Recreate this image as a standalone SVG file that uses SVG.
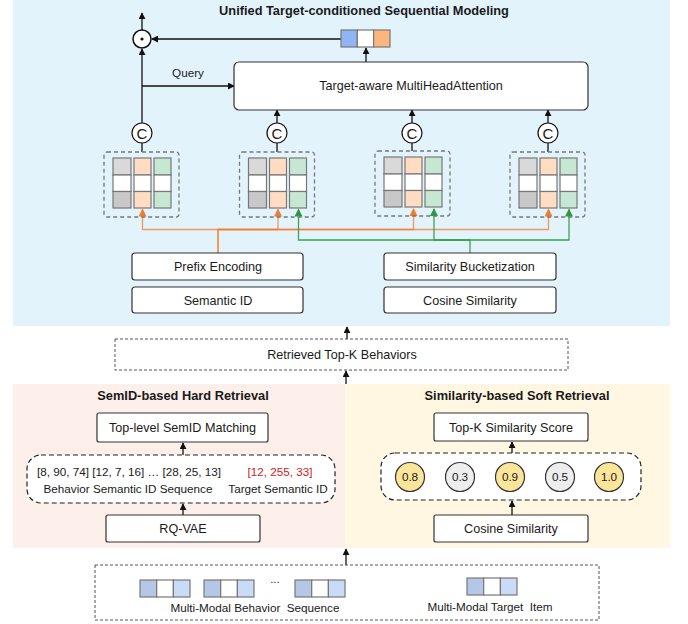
<svg xmlns="http://www.w3.org/2000/svg" width="688" height="624" viewBox="0 0 688 624">
<style>
text{font-family:"Liberation Sans",Arial,sans-serif;fill:#1a1a1a}
.t12{font-size:12.6px}
.t11{font-size:11.7px}
.b{font-weight:bold;font-size:12.8px}
.box{fill:#fff;stroke:#333;stroke-width:1.2}
.dash{fill:#fff;stroke:#555;stroke-width:1;stroke-dasharray:3,2}
.gdash{fill:none;stroke:#777;stroke-width:1.3;stroke-dasharray:4,3}
.ln{fill:none;stroke:#111;stroke-width:1.3}
.cell{stroke:#777;stroke-width:1.2}
.or{fill:none;stroke:#F47B2A;stroke-width:1.3;stroke-opacity:0.75}
.gr{fill:none;stroke:#2C9A3C;stroke-width:1.3;stroke-opacity:0.9}
</style>
<defs>
<marker id="ah" viewBox="0 0 8 8" refX="7" refY="4" markerWidth="7" markerHeight="7" markerUnits="userSpaceOnUse" orient="auto"><path d="M0,0 L8,4 L0,8 z" fill="#111"/></marker>
<marker id="ao" viewBox="0 0 8 8" refX="7" refY="4" markerWidth="8" markerHeight="8" markerUnits="userSpaceOnUse" orient="auto"><path d="M0,0 L8,4 L0,8 z" fill="#F47B2A"/></marker>
<marker id="ag" viewBox="0 0 8 8" refX="7" refY="4" markerWidth="8" markerHeight="8" markerUnits="userSpaceOnUse" orient="auto"><path d="M0,0 L8,4 L0,8 z" fill="#2C9A3C"/></marker>
<g id="grp">
<rect class="gdash" x="0" y="0" width="75" height="65" rx="3"/>
<rect class="cell" x="9" y="6" width="18" height="17" fill="#D9D9D9"/>
<rect class="cell" x="9" y="23" width="18" height="16.5" fill="#fff"/>
<rect class="cell" x="9" y="39.5" width="18" height="16.5" fill="#C8C8C8"/>
<rect class="cell" x="30" y="6" width="17" height="17" fill="#FFDCC2"/>
<rect class="cell" x="30" y="23" width="17" height="16.5" fill="#fff"/>
<rect class="cell" x="30" y="39.5" width="17" height="16.5" fill="#FFDCC2"/>
<rect class="cell" x="50" y="6" width="17" height="17" fill="#C6E8D3"/>
<rect class="cell" x="50" y="23" width="17" height="16.5" fill="#fff"/>
<rect class="cell" x="50" y="39.5" width="17" height="16.5" fill="#C6E8D3"/>
</g>
<g id="vec">
<rect class="cell" x="0" y="0" width="16.7" height="17" fill="#B4C7E7"/>
<rect class="cell" x="16.7" y="0" width="16.7" height="17" fill="#fff"/>
<rect class="cell" x="33.4" y="0" width="16.6" height="17" fill="#C9DBF7"/>
</g>
</defs>

<!-- backgrounds -->
<rect x="13" y="0" width="657" height="326" fill="#E3F3FC"/>
<rect x="13" y="384" width="332" height="164" fill="#FDF0EA"/>
<rect x="345" y="384" width="325" height="164" fill="#FFF7E2"/>

<text class="b" x="364" y="15" text-anchor="middle">Unified Target-conditioned Sequential Modeling</text>

<!-- connectors -->
<g id="connectors">
<path class="ln" d="M142,30 V13" marker-end="url(#ah)"/>
<path class="ln" d="M341,39 H152" marker-end="url(#ah)"/>
<path class="ln" d="M366,62 V48" marker-end="url(#ah)"/>
<path class="ln" d="M142,123 V49" marker-end="url(#ah)"/>
<path class="ln" d="M142,86 H234" marker-end="url(#ah)"/>
<path class="ln" d="M142,152 V143"/>
<path class="ln" d="M277,152 V143"/>
<path class="ln" d="M412,151 V143"/>
<path class="ln" d="M548,152 V143"/>
<path class="ln" d="M277,123 V110" marker-end="url(#ah)"/>
<path class="ln" d="M412,123 V110" marker-end="url(#ah)"/>
<path class="ln" d="M548,123 V110" marker-end="url(#ah)"/>
<path class="or" d="M218,253 V229.5 H142.5 V209.5" marker-end="url(#ao)"/>
<path class="or" d="M218,253 V229.5 H278 V209.5" marker-end="url(#ao)"/>
<path class="or" d="M218,229.5 H413.5 V209" marker-end="url(#ao)"/>
<path class="or" d="M218,229.5 H548.5 V209.5" marker-end="url(#ao)"/>
<path class="gr" d="M470,253 V240 H298.5 V209.5" marker-end="url(#ag)"/>
<path class="gr" d="M470,240 H434 V209" marker-end="url(#ag)"/>
<path class="gr" d="M470,240 H569 V209.5" marker-end="url(#ag)"/>
<path class="ln" d="M347,339 V327" marker-end="url(#ah)"/>
<path class="ln" d="M346,384 V371" marker-end="url(#ah)"/>
<path class="ln" d="M346,565 V549" marker-end="url(#ah)"/>
<path class="ln" d="M183,455 V443" marker-end="url(#ah)"/>
<path class="ln" d="M183,515 V504" marker-end="url(#ah)"/>
<path class="ln" d="M512,453 V442" marker-end="url(#ah)"/>
<path class="ln" d="M512,515 V501" marker-end="url(#ah)"/>
</g>

<!-- odot -->
<g id="odot">
<circle cx="142" cy="39" r="9" fill="#fff" stroke="#111" stroke-width="1.5"/>
<circle cx="142" cy="39" r="1.6" fill="#111"/>
</g>

<!-- attention output vector -->
<g id="attnout">
<rect class="cell" x="341" y="30" width="16.3" height="17" fill="#8FB5F5"/>
<rect class="cell" x="357.3" y="30" width="16.3" height="17" fill="#fff"/>
<rect class="cell" x="373.6" y="30" width="16.4" height="17" fill="#FDB57E"/>
</g>

<text class="t11" x="188" y="77" text-anchor="middle">Query</text>

<g id="mha">
<rect class="box" x="234" y="62" width="354" height="48" rx="5"/>
<text class="t12" x="411" y="90" text-anchor="middle">Target-aware MultiHeadAttention</text>
</g>

<!-- C circles -->
<g id="c1"><circle cx="142" cy="133" r="10" fill="#fff" stroke="#111" stroke-width="1.2"/><text x="142" y="138.5" text-anchor="middle" style="font-size:15px">C</text></g>
<g id="c2"><circle cx="277" cy="133" r="10" fill="#fff" stroke="#111" stroke-width="1.2"/><text x="277" y="138.5" text-anchor="middle" style="font-size:15px">C</text></g>
<g id="c3"><circle cx="412" cy="133" r="10" fill="#fff" stroke="#111" stroke-width="1.2"/><text x="412" y="138.5" text-anchor="middle" style="font-size:15px">C</text></g>
<g id="c4"><circle cx="548" cy="133" r="10" fill="#fff" stroke="#111" stroke-width="1.2"/><text x="548" y="138.5" text-anchor="middle" style="font-size:15px">C</text></g>

<!-- feature groups -->
<g id="g1"><use href="#grp" x="104" y="152"/></g>
<g id="g2"><use href="#grp" x="239.5" y="152"/></g>
<g id="g3"><use href="#grp" x="375" y="151"/></g>
<g id="g4"><use href="#grp" x="510" y="152"/></g>

<g id="prefix"><rect class="box" x="132" y="253" width="171" height="27" rx="3"/><text class="t12" x="218" y="271" text-anchor="middle">Prefix Encoding</text></g>
<g id="semid"><rect class="box" x="132" y="287" width="171" height="26" rx="3"/><text class="t12" x="218" y="304.5" text-anchor="middle">Semantic ID</text></g>
<g id="bucket"><rect class="box" x="384" y="253" width="172" height="27" rx="3"/><text class="t12" x="470" y="271" text-anchor="middle">Similarity Bucketization</text></g>
<g id="cos1"><rect class="box" x="384" y="287" width="172" height="26" rx="3"/><text class="t12" x="470" y="304.5" text-anchor="middle">Cosine Similarity</text></g>

<g id="retrieved"><rect class="dash" x="115" y="339" width="453" height="31"/><text class="t12" x="342" y="359" text-anchor="middle">Retrieved Top-K Behaviors</text></g>

<text class="b" x="183" y="400" text-anchor="middle">SemID-based Hard Retrieval</text>
<text class="b" x="517" y="400" text-anchor="middle">Similarity-based Soft Retrieval</text>

<g id="matching"><rect class="box" x="97" y="413" width="171" height="29" rx="2"/><text class="t12" x="182.5" y="432" text-anchor="middle">Top-level SemID Matching</text></g>
<g id="semseq">
<rect x="27" y="455" width="308" height="48" rx="14" fill="#fff" stroke="#222" stroke-width="1.2" stroke-dasharray="5,3"/>
<text class="t11" x="129" y="476" text-anchor="middle">[8, 90, 74] [12, 7, 16] … [28, 25, 13]</text>
<text class="t11" x="280" y="476" text-anchor="middle" style="fill:#D42020">[12, 255, 33]</text>
<text class="t11" x="128" y="493" text-anchor="middle">Behavior Semantic ID Sequence</text>
<text class="t11" x="278" y="493" text-anchor="middle">Target Semantic ID</text>
</g>
<g id="rqvae"><rect class="box" x="106" y="515" width="154" height="27" rx="2"/><text class="t12" x="183" y="533" text-anchor="middle">RQ-VAE</text></g>

<g id="topk"><rect class="box" x="434" y="413" width="154" height="28" rx="2"/><text class="t12" x="511" y="431.5" text-anchor="middle">Top-K Similarity Score</text></g>
<g id="scores">
<rect x="381" y="453" width="260" height="47" rx="14" fill="#fff" stroke="#222" stroke-width="1.2" stroke-dasharray="5,3"/>
<circle cx="410" cy="477" r="14.5" fill="#FBE59B" stroke="#333" stroke-width="1.2"/><text class="t11" x="410" y="481" text-anchor="middle">0.8</text>
<circle cx="460" cy="477" r="14.5" fill="#EEEEEE" stroke="#333" stroke-width="1.2"/><text class="t11" x="460" y="481" text-anchor="middle">0.3</text>
<circle cx="510" cy="477" r="14.5" fill="#FBE59B" stroke="#333" stroke-width="1.2"/><text class="t11" x="510" y="481" text-anchor="middle">0.9</text>
<circle cx="560" cy="477" r="14.5" fill="#EEEEEE" stroke="#333" stroke-width="1.2"/><text class="t11" x="560" y="481" text-anchor="middle">0.5</text>
<circle cx="609" cy="477" r="14.5" fill="#FBE59B" stroke="#333" stroke-width="1.2"/><text class="t11" x="609" y="481" text-anchor="middle">1.0</text>
</g>
<g id="cos2"><rect class="box" x="434" y="515" width="154" height="27" rx="2"/><text class="t12" x="511" y="533" text-anchor="middle">Cosine Similarity</text></g>

<g id="inputs">
<rect class="dash" x="95" y="565" width="504" height="55"/>
<use href="#vec" x="140" y="580"/>
<use href="#vec" x="204" y="580"/>
<text class="t11" x="275" y="583" text-anchor="middle">...</text>
<use href="#vec" x="295" y="580"/>
<use href="#vec" x="467" y="578"/>
<text class="t11" x="255" y="612" text-anchor="middle" xml:space="preserve">Multi-Modal Behavior  Sequence</text>
<text class="t11" x="490" y="611" text-anchor="middle" xml:space="preserve">Multi-Modal Target  Item</text>
</g>
</svg>
